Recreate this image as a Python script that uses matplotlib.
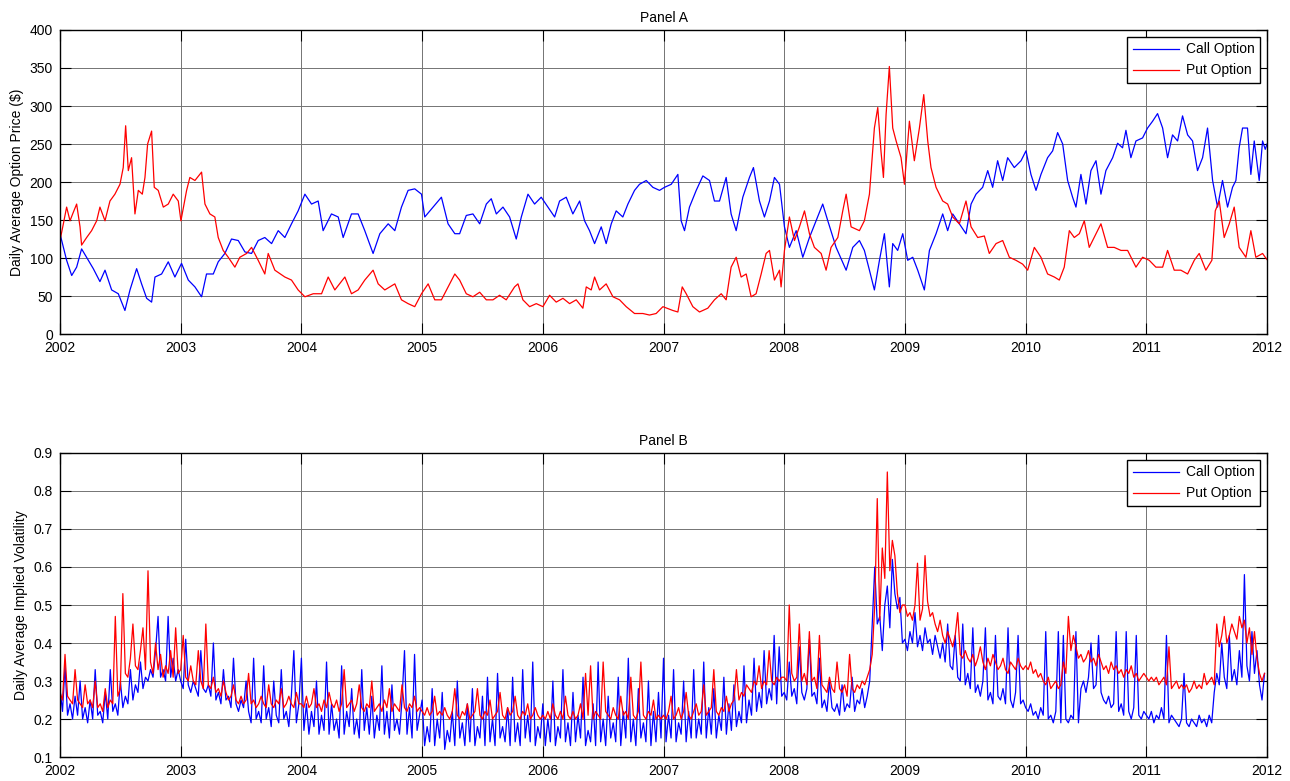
import numpy as np
import matplotlib
matplotlib.use('Agg')
import matplotlib.pyplot as plt

plt.rcParams['font.family'] = ['Liberation Sans', 'DejaVu Sans']
plt.rcParams['font.size'] = 10

# Panel A - daily average option price ($) (decimal year, value)
call_price_t = [
    2002.000, 2002.055, 2002.097, 2002.138, 2002.179, 2002.235, 2002.276, 2002.331, 2002.373, 2002.428,
    2002.483, 2002.538, 2002.580, 2002.635, 2002.676, 2002.718, 2002.759, 2002.787, 2002.842, 2002.897,
    2002.952, 2003.007, 2003.063, 2003.118, 2003.173, 2003.214, 2003.270, 2003.311, 2003.366, 2003.421,
    2003.477, 2003.532, 2003.587, 2003.642, 2003.697, 2003.753, 2003.808, 2003.863, 2003.918, 2003.973,
    2004.029, 2004.084, 2004.139, 2004.180, 2004.249, 2004.305, 2004.346, 2004.415, 2004.470, 2004.525,
    2004.594, 2004.650, 2004.719, 2004.774, 2004.829, 2004.884, 2004.939, 2004.995, 2005.022, 2005.091,
    2005.160, 2005.215, 2005.271,
    2005.311, 2005.366, 2005.421, 2005.477, 2005.532, 2005.573, 2005.615, 2005.670, 2005.725, 2005.780,
    2005.822, 2005.877, 2005.932, 2005.987, 2006.042, 2006.098, 2006.139, 2006.194, 2006.249, 2006.305,
    2006.346, 2006.387, 2006.429, 2006.484, 2006.525, 2006.567, 2006.608, 2006.663, 2006.705, 2006.760,
    2006.801, 2006.857, 2006.912, 2006.967, 2007.008, 2007.064, 2007.119, 2007.146, 2007.174, 2007.215,
    2007.271, 2007.326, 2007.381, 2007.422, 2007.464, 2007.519, 2007.560, 2007.602, 2007.657, 2007.712,
    2007.745, 2007.795, 2007.836, 2007.878, 2007.919, 2007.961, 2008.002, 2008.043, 2008.099, 2008.154,
    2008.209, 2008.264, 2008.319, 2008.361, 2008.430, 2008.513, 2008.568,
    2008.623, 2008.664, 2008.706, 2008.747, 2008.789, 2008.830, 2008.871, 2008.899, 2008.940, 2008.982,
    2009.023, 2009.065, 2009.106, 2009.161, 2009.203, 2009.258, 2009.313, 2009.354, 2009.396, 2009.451,
    2009.506, 2009.548, 2009.589, 2009.644, 2009.686, 2009.727, 2009.768, 2009.810, 2009.851, 2009.906,
    2009.962, 2010.003, 2010.044, 2010.086, 2010.127, 2010.182, 2010.224, 2010.265, 2010.307, 2010.348,
    2010.389, 2010.417, 2010.458, 2010.500, 2010.541, 2010.583, 2010.624, 2010.665, 2010.721, 2010.762,
    2010.803, 2010.831, 2010.872, 2010.914, 2010.969, 2011.010, 2011.052, 2011.093, 2011.135, 2011.176,
    2011.217, 2011.259, 2011.300, 2011.342, 2011.383, 2011.424, 2011.466, 2011.507, 2011.549, 2011.590,
    2011.631, 2011.673, 2011.714, 2011.742, 2011.769, 2011.797, 2011.838, 2011.866, 2011.894, 2011.935,
    2011.963, 2011.985, 2012.000,
]
call_price = [
    132, 97, 77, 88, 112, 97, 86, 69, 84, 58,
    53, 31, 58, 86, 66, 47, 42, 75, 79, 95,
    75, 93, 71, 62, 49, 79, 79, 95, 106, 125,
    123, 108, 106, 123, 127, 119, 136, 127, 145, 162,
    184, 171, 175, 136, 158, 154, 127, 158, 158, 136,
    106, 132, 145, 136, 167, 189, 191, 184, 154, 167,
    180, 145, 132,
    132, 156, 158, 145, 171, 178, 158, 167, 154, 125,
    154, 184, 171, 180, 167, 154, 175, 180, 158, 175,
    149, 136, 119, 141, 119, 145, 162, 154, 171, 189,
    197, 202, 193, 189, 193, 197, 210, 149, 136, 167,
    189, 208, 202, 175, 175, 206, 158, 136, 180, 206,
    219, 175, 154, 175, 206, 197, 141, 114, 136, 101,
    127, 149, 171, 149, 114, 84, 114,
    123, 110, 84, 58, 97, 132, 62, 119, 110, 132,
    97, 101, 84, 58, 110, 132, 158, 136, 158, 145,
    132, 171, 184, 193, 215, 193, 228, 202, 232, 219,
    228, 241, 210, 189, 210, 232, 241, 265, 250, 202,
    180, 167, 210, 171, 215, 228, 184, 215, 232, 251,
    245, 268, 232, 254, 258, 271, 280, 290, 271, 232,
    262, 254, 287, 262, 254, 215, 232, 271, 202, 167,
    202, 167, 193, 202, 245, 271, 271, 210, 254, 202,
    254, 243, 250,
]
put_price_t = [
    2002.000, 2002.028, 2002.055, 2002.083, 2002.110, 2002.138, 2002.166, 2002.179, 2002.221, 2002.262,
    2002.304, 2002.331, 2002.373, 2002.414, 2002.455, 2002.497, 2002.524, 2002.544, 2002.566, 2002.593,
    2002.621, 2002.649, 2002.682, 2002.704, 2002.726, 2002.759, 2002.781, 2002.814, 2002.856, 2002.897,
    2002.938, 2002.980, 2003.002, 2003.049, 2003.076, 2003.118, 2003.173, 2003.201, 2003.242, 2003.283,
    2003.311, 2003.352, 2003.394, 2003.449, 2003.490, 2003.546, 2003.587, 2003.642, 2003.697, 2003.725,
    2003.780, 2003.863, 2003.918, 2003.973, 2004.029, 2004.098, 2004.167, 2004.222, 2004.277, 2004.360,
    2004.415, 2004.470, 2004.525, 2004.594, 2004.636, 2004.691, 2004.774, 2004.829, 2004.884, 2004.939,
    2004.995, 2005.050, 2005.105, 2005.160, 2005.215, 2005.271,
    2005.311, 2005.366, 2005.421, 2005.477, 2005.532, 2005.587, 2005.642, 2005.697, 2005.766, 2005.794,
    2005.835, 2005.891, 2005.946, 2006.001, 2006.056, 2006.111, 2006.167, 2006.222, 2006.277, 2006.332,
    2006.360, 2006.401, 2006.429, 2006.470, 2006.525, 2006.581, 2006.636, 2006.691, 2006.760, 2006.829,
    2006.884, 2006.939, 2006.995, 2007.077, 2007.119, 2007.155, 2007.188, 2007.243, 2007.298, 2007.367,
    2007.422, 2007.478, 2007.519, 2007.560, 2007.602, 2007.643, 2007.685, 2007.726, 2007.767, 2007.809,
    2007.850, 2007.878, 2007.919, 2007.961, 2007.974, 2008.002, 2008.043, 2008.085, 2008.126, 2008.168,
    2008.209, 2008.250, 2008.306, 2008.347, 2008.388, 2008.444, 2008.485, 2008.513, 2008.554,
    2008.623, 2008.664, 2008.706, 2008.747, 2008.775, 2008.802, 2008.822, 2008.844, 2008.871, 2008.899,
    2008.927, 2008.968, 2008.996, 2009.037, 2009.078, 2009.120, 2009.156, 2009.189, 2009.216, 2009.258,
    2009.313, 2009.354, 2009.396, 2009.451, 2009.506, 2009.548, 2009.603, 2009.658, 2009.699, 2009.755,
    2009.810, 2009.865, 2009.920, 2009.975, 2010.017, 2010.072, 2010.127, 2010.182, 2010.238, 2010.279,
    2010.320, 2010.362, 2010.403, 2010.445, 2010.486, 2010.527, 2010.583, 2010.624, 2010.679, 2010.734,
    2010.790, 2010.845, 2010.914, 2010.969, 2011.024, 2011.079, 2011.135, 2011.176, 2011.231, 2011.286,
    2011.342, 2011.397, 2011.438, 2011.493, 2011.543, 2011.571, 2011.604, 2011.645, 2011.687, 2011.728,
    2011.769, 2011.825, 2011.866, 2011.907, 2011.963, 2011.985, 2012.000,
]
put_price = [
    123, 145, 167, 149, 160, 171, 141, 117, 127, 136,
    149, 167, 149, 175, 184, 197, 219, 274, 215, 232,
    158, 189, 184, 206, 250, 267, 193, 189, 167, 171,
    184, 175, 149, 189, 206, 202, 213, 171, 158, 154,
    127, 110, 101, 88, 101, 106, 114, 97, 79, 106,
    84, 75, 71, 58, 49, 53, 53, 75, 58, 75,
    53, 58, 71, 84, 66, 58, 66, 45, 40, 36,
    53, 66, 45, 45, 62, 79,
    71, 53, 49, 55, 45, 45, 51, 45, 62, 66,
    45, 36, 40, 36, 51, 42, 47, 40, 45, 34,
    62, 58, 75, 58, 66, 49, 45, 36, 27, 27,
    25, 27, 36, 31, 29, 62, 53, 36, 29, 34,
    45, 53, 45, 88, 101, 75, 79, 49, 53, 79,
    106, 110, 71, 84, 62, 110, 154, 123, 141, 162,
    132, 114, 106, 84, 114, 127, 162, 184, 141,
    136, 149, 184, 271, 298, 240, 206, 289, 352, 271,
    254, 232, 197, 280, 228, 271, 315, 254, 219, 193,
    175, 171, 154, 145, 175, 141, 127, 129, 106, 119,
    123, 101, 97, 92, 84, 114, 101, 79, 75, 71,
    88, 136, 127, 132, 149, 114, 132, 145, 114, 114,
    110, 110, 88, 101, 97, 88, 88, 110, 84, 84,
    79, 97, 106, 84, 97, 162, 175, 127, 145, 167,
    114, 101, 136, 101, 106, 101, 98,
]

# Panel B - daily average implied volatility (%), 48 readings per year, 2002-2011
call_iv_pct = [
    28, 22, 34, 21, 24, 20, 26, 21, 30, 20, 23, 19, 25, 20, 33, 21, 22, 19, 27, 20, 33, 22, 24, 21,
    30, 23, 26, 24, 33, 25, 29, 27, 35, 28, 31, 30, 33, 31, 38, 47, 31, 33, 30, 47, 31, 36, 30, 33,  # 2002
    30, 28, 41, 29, 27, 30, 28, 26, 38, 28, 27, 29, 26, 40, 25, 27, 24, 33, 25, 26, 23, 36, 24, 22,
    25, 23, 30, 22, 19, 36, 20, 22, 19, 34, 20, 23, 18, 30, 21, 19, 33, 20, 22, 18, 26, 38, 19, 24,  # 2003
    36, 17, 24, 16, 22, 18, 30, 16, 21, 17, 35, 16, 24, 17, 20, 15, 34, 16, 22, 18, 28, 16, 20, 15,
    33, 17, 23, 16, 26, 15, 21, 17, 34, 16, 22, 15, 29, 17, 20, 16, 25, 38, 16, 23, 15, 37, 17, 21,  # 2004
    25, 13, 18, 14, 28, 13, 20, 15, 27, 12, 17, 14, 22, 13, 30, 15, 19, 13, 24, 14, 28, 13, 18, 15,
    26, 13, 31, 14, 20, 13, 32, 15, 18, 14, 23, 13, 31, 14, 19, 13, 33, 15, 21, 14, 35, 13, 18, 15,  # 2005
    24, 13, 20, 14, 30, 13, 18, 15, 33, 14, 19, 13, 27, 14, 21, 15, 31, 13, 17, 14, 24, 13, 35, 14,
    20, 13, 26, 15, 19, 14, 31, 13, 22, 15, 36, 14, 20, 13, 28, 15, 19, 14, 30, 13, 22, 14, 27, 15,  # 2006
    36, 14, 21, 15, 33, 14, 19, 16, 30, 14, 22, 15, 33, 15, 20, 16, 35, 15, 23, 16, 28, 15, 21, 17,
    31, 16, 24, 17, 29, 18, 22, 19, 34, 19, 25, 21, 36, 22, 27, 23, 38, 24, 28, 25, 42, 24, 39, 26,  # 2007
    27, 25, 35, 26, 28, 24, 39, 27, 25, 28, 41, 26, 27, 24, 36, 23, 25, 22, 30, 23, 22, 24, 21, 29,
    22, 24, 23, 31, 22, 25, 24, 28, 23, 26, 30, 45, 60, 45, 47, 38, 50, 55, 44, 62, 53, 49, 52, 40,  # 2008
    41, 38, 43, 40, 48, 39, 42, 38, 44, 40, 41, 37, 42, 39, 36, 40, 35, 45, 34, 33, 42, 31, 30, 45,
    29, 32, 28, 44, 27, 29, 26, 30, 44, 25, 27, 24, 42, 26, 25, 28, 24, 44, 25, 23, 27, 42, 24, 25,  # 2009
    23, 22, 24, 21, 22, 20, 23, 21, 43, 20, 21, 19, 22, 43, 19, 42, 20, 19, 21, 20, 43, 19, 28, 30,
    27, 31, 40, 28, 29, 42, 27, 25, 24, 26, 23, 24, 43, 22, 24, 21, 43, 22, 20, 23, 42, 21, 20, 22,  # 2010
    21, 20, 22, 19, 21, 20, 23, 20, 42, 19, 21, 20, 19, 18, 20, 32, 19, 18, 20, 19, 18, 21, 19, 20,
    18, 21, 19, 27, 32, 29, 40, 31, 28, 42, 30, 33, 29, 38, 31, 58, 34, 30, 43, 32, 38, 29, 25, 32,  # 2011
]
put_iv_pct = [
    27, 25, 37, 26, 25, 24, 33, 25, 24, 23, 29, 24, 25, 23, 30, 23, 24, 22, 28, 23, 25, 24, 47, 26,
    28, 53, 32, 31, 36, 45, 34, 33, 38, 44, 33, 59, 35, 32, 40, 33, 37, 31, 34, 32, 38, 31, 44, 32,  # 2002
    33, 42, 31, 30, 34, 30, 29, 38, 30, 28, 45, 29, 28, 31, 27, 28, 26, 30, 27, 25, 26, 29, 25, 24,
    26, 24, 25, 32, 24, 25, 23, 24, 26, 24, 23, 29, 24, 23, 25, 24, 28, 23, 24, 26, 24, 23, 27, 24,  # 2003
    24, 23, 26, 23, 24, 28, 23, 24, 22, 25, 23, 27, 24, 23, 25, 22, 24, 33, 23, 24, 25, 22, 24, 29,
    23, 22, 24, 23, 30, 22, 23, 24, 22, 25, 23, 28, 22, 24, 23, 22, 29, 23, 22, 24, 23, 26, 22, 23,  # 2004
    22, 21, 23, 21, 22, 26, 21, 22, 21, 23, 21, 20, 22, 28, 21, 20, 22, 21, 24, 20, 21, 22, 28, 21,
    20, 22, 21, 25, 20, 21, 22, 27, 21, 20, 23, 21, 22, 26, 21, 20, 22, 21, 24, 20, 21, 23, 21, 20,  # 2005
    21, 20, 22, 20, 24, 21, 20, 22, 20, 26, 21, 20, 22, 20, 21, 24, 20, 32, 21, 34, 20, 22, 21, 20,
    35, 22, 21, 20, 23, 21, 20, 26, 21, 22, 20, 31, 21, 20, 22, 35, 21, 20, 22, 21, 25, 20, 21, 20,  # 2006
    21, 20, 22, 26, 20, 21, 23, 20, 22, 27, 21, 20, 22, 24, 21, 22, 29, 21, 22, 23, 33, 22, 21, 23,
    22, 26, 22, 24, 25, 33, 25, 27, 26, 29, 28, 27, 30, 29, 34, 28, 30, 29, 38, 30, 29, 31, 30, 31,  # 2007
    31, 30, 50, 32, 30, 31, 45, 30, 32, 29, 43, 30, 31, 28, 42, 29, 28, 27, 31, 28, 27, 35, 28, 27,
    29, 26, 37, 28, 27, 29, 28, 30, 29, 31, 33, 37, 50, 78, 46, 65, 57, 85, 59, 67, 63, 53, 48, 50,  # 2008
    50, 47, 48, 46, 50, 61, 46, 49, 63, 51, 47, 48, 45, 43, 46, 42, 40, 43, 41, 39, 42, 48, 37, 36,
    38, 36, 35, 37, 34, 36, 39, 35, 33, 36, 34, 37, 35, 33, 34, 36, 33, 32, 35, 34, 33, 36, 34, 33,  # 2009
    34, 33, 35, 32, 33, 31, 32, 30, 29, 31, 28, 29, 30, 28, 29, 35, 32, 47, 38, 42, 39, 36, 37, 35,
    36, 38, 35, 36, 34, 37, 35, 33, 34, 32, 35, 33, 34, 32, 33, 31, 33, 32, 34, 31, 32, 30, 31, 32,  # 2010
    31, 30, 31, 30, 31, 29, 30, 31, 29, 39, 28, 29, 30, 28, 29, 28, 29, 27, 28, 30, 28, 29, 28, 32,
    29, 30, 31, 29, 45, 39, 42, 47, 40, 42, 45, 43, 41, 47, 44, 46, 40, 44, 37, 43, 36, 32, 30, 32,  # 2011
]

years = list(range(2002, 2013))
iv_t = 2002 + np.arange(len(call_iv_pct)) / 48.0


def style_axes(ax, yticks):
    ax.set_xlim(2002, 2012)
    ax.set_ylim(yticks[0], yticks[-1])
    ax.set_xticks(years)
    ax.set_xticklabels([str(y) for y in years])
    ax.set_yticks(yticks)
    ax.tick_params(direction='in', length=8, width=0.8, top=True, right=True, pad=5, labelsize=10)
    ax.grid(True, color='0.45', linewidth=0.7)
    ax.set_axisbelow(True)
    for s in ax.spines.values():
        s.set_linewidth(1.0)
    leg = ax.legend(loc='upper right', fontsize=10, handlelength=3.3, handletextpad=0.5,
                    fancybox=False, framealpha=1, edgecolor='black', borderaxespad=0.5)
    leg.get_frame().set_linewidth(1.0)


fig = plt.figure(figsize=(12.9, 7.81), dpi=100)
ax1 = fig.add_axes([0.0465, 0.5723, 0.9357, 0.3893])
ax2 = fig.add_axes([0.0465, 0.0307, 0.9357, 0.3893])

# Panel A
ax1.plot(call_price_t, call_price, color='blue', linewidth=0.9, label='Call Option')
ax1.plot(put_price_t, put_price, color='red', linewidth=0.9, label='Put Option')
ax1.set_title('Panel A', fontsize=10, pad=6)
ax1.set_ylabel('Daily Average Option Price ($)', fontsize=10, labelpad=4)
style_axes(ax1, list(range(0, 401, 50)))

# Panel B
ax2.plot(iv_t, np.array(call_iv_pct) / 100.0, color='blue', linewidth=0.9, label='Call Option')
ax2.plot(iv_t, np.array(put_iv_pct) / 100.0, color='red', linewidth=0.9, label='Put Option')
ax2.set_title('Panel B', fontsize=10, pad=6)
ax2.set_ylabel('Daily Average Implied Volatility', fontsize=10, labelpad=4)
style_axes(ax2, [round(0.1 * k, 1) for k in range(1, 10)])

fig.savefig('out.png', dpi=100)
plt.close(fig)
